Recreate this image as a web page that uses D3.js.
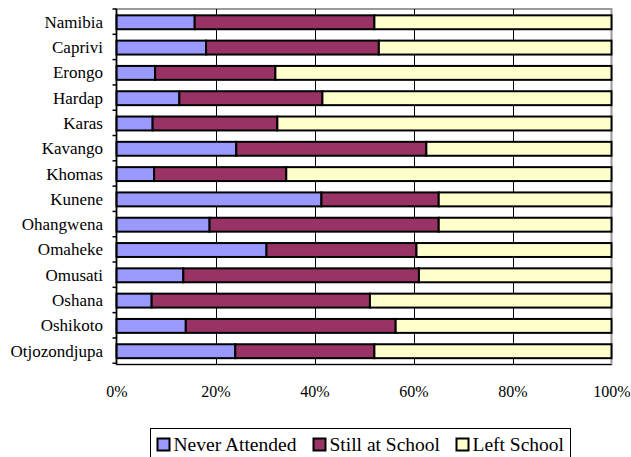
<!DOCTYPE html>
<html>
<head>
<meta charset="utf-8">
<script src="https://cdn.jsdelivr.net/npm/d3@7"></script>
<style>
  html, body { margin: 0; padding: 0; background: #fff; }
  svg { display: block; }
  svg text { font-family: "Liberation Serif", serif; }
</style>
</head>
<body>
<svg id="chart" width="631" height="457"></svg>
<script>
// School attendance status by region (percent of population)
const regions = ["Namibia", "Caprivi", "Erongo", "Hardap", "Karas", "Kavango", "Khomas",
  "Kunene", "Ohangwena", "Omaheke", "Omusati", "Oshana", "Oshikoto", "Otjozondjupa"];
const neverAttended = [15.8, 18.1, 7.8, 12.7, 7.3, 24.2, 7.6, 41.4, 18.8, 30.3, 13.5, 7.1, 14.0, 24.0];
const stillAtSchool = [36.3, 34.9, 24.3, 28.9, 25.2, 38.4, 26.7, 23.7, 46.3, 30.3, 47.6, 44.1, 42.4, 28.1];
const leftSchool    = [47.9, 47.0, 67.9, 58.4, 67.5, 37.4, 65.7, 34.9, 34.9, 39.4, 38.9, 48.8, 43.6, 47.9];
const seriesNames = ["Never Attended", "Still at School", "Left School"];
const seriesColors = ["#9999FF", "#993366", "#FFFFCC"];
const xTicks = [0, 0.2, 0.4, 0.6, 0.8, 1];

const svg = d3.select("#chart");
const plot = { left: 116.5, right: 611.5, top: 9, bottom: 364.5 };

const rows = regions.map((r, i) => ({
  region: r,
  "Never Attended": neverAttended[i],
  "Still at School": stillAtSchool[i],
  "Left School": leftSchool[i]
}));
// normalise each row to 100%
const stacked = d3.stack().keys(seriesNames).offset(d3.stackOffsetExpand)(rows);

const x = d3.scaleLinear().domain([0, 1]).range([plot.left, plot.right]);
const y = d3.scaleBand().domain(regions).range([plot.top, plot.bottom])
  .paddingInner(0.45).paddingOuter(0.25);

// plot area frame
svg.append("rect")
  .attr("x", plot.left).attr("y", plot.top)
  .attr("width", plot.right - plot.left).attr("height", plot.bottom - plot.top)
  .attr("fill", "#fff").attr("stroke", "#999").attr("stroke-width", 2);

// vertical gridlines
svg.append("g").selectAll("line")
  .data(xTicks.slice(1, -1))
  .join("line")
  .attr("x1", d => Math.round(x(d)) + 0.5).attr("x2", d => Math.round(x(d)) + 0.5)
  .attr("y1", plot.top).attr("y2", plot.bottom)
  .attr("stroke", "#000").attr("stroke-width", 1);

// stacked bars
svg.append("g").selectAll("g")
  .data(stacked)
  .join("g")
  .attr("fill", (d, i) => seriesColors[i])
  .selectAll("rect")
  .data(d => d)
  .join("rect")
  .attr("x", d => x(d[0]))
  .attr("width", d => x(d[1]) - x(d[0]))
  .attr("y", d => y(d.data.region))
  .attr("height", y.bandwidth())
  .attr("stroke", "#000").attr("stroke-width", 2);

// category axis
const step = y.step();
svg.append("line")
  .attr("x1", plot.left).attr("x2", plot.left)
  .attr("y1", plot.top).attr("y2", plot.bottom)
  .attr("stroke", "#000").attr("stroke-width", 1.5);
svg.append("g").selectAll("line")
  .data(d3.range(regions.length + 1))
  .join("line")
  .attr("x1", plot.left - 4).attr("x2", plot.left)
  .attr("y1", i => plot.top + i * step).attr("y2", i => plot.top + i * step)
  .attr("stroke", "#000").attr("stroke-width", 1.5);
svg.append("g").selectAll("text")
  .data(regions)
  .join("text")
  .attr("x", 103)
  .attr("y", d => y(d) + y.bandwidth() / 2)
  .attr("dy", "0.32em")
  .attr("text-anchor", "end")
  .attr("font-size", 17)
  .attr("fill", "#000")
  .text(d => d);

// value axis
svg.append("line")
  .attr("x1", plot.left).attr("x2", plot.right)
  .attr("y1", plot.bottom).attr("y2", plot.bottom)
  .attr("stroke", "#000").attr("stroke-width", 1);
const xAxis = d3.axisBottom(x).tickValues(xTicks).tickFormat(d3.format(".0%")).tickSize(0).tickPadding(0);
const xg = svg.append("g").attr("transform", `translate(0,${plot.bottom})`).call(xAxis);
xg.attr("font-family", null).attr("font-size", null);
xg.select(".domain").remove();
xg.selectAll("text")
  .attr("y", 32.5).attr("dy", null)
  .attr("font-size", 16)
  .attr("fill", "#000");

// legend: fixed item slots in a boxed row
const legendSlots = [157.5, 313.5, 456.5];
const legend = svg.append("g");
legend.append("rect")
  .attr("x", 150.5).attr("y", 428.5)
  .attr("width", 420).attr("height", 40)
  .attr("fill", "#fff").attr("stroke", "#000").attr("stroke-width", 1);
const items = legend.selectAll("g.item")
  .data(seriesNames)
  .join("g")
  .attr("class", "item")
  .attr("transform", (d, i) => `translate(${legendSlots[i]},0)`);
items.append("rect")
  .attr("x", 0).attr("y", 438.5)
  .attr("width", 12).attr("height", 12)
  .attr("fill", (d, i) => seriesColors[i])
  .attr("stroke", "#000").attr("stroke-width", 2);
items.append("text")
  .attr("x", 16).attr("y", 451)
  .attr("font-size", 19.5)
  .attr("fill", "#000")
  .text(d => d);
</script>
</body>
</html>
